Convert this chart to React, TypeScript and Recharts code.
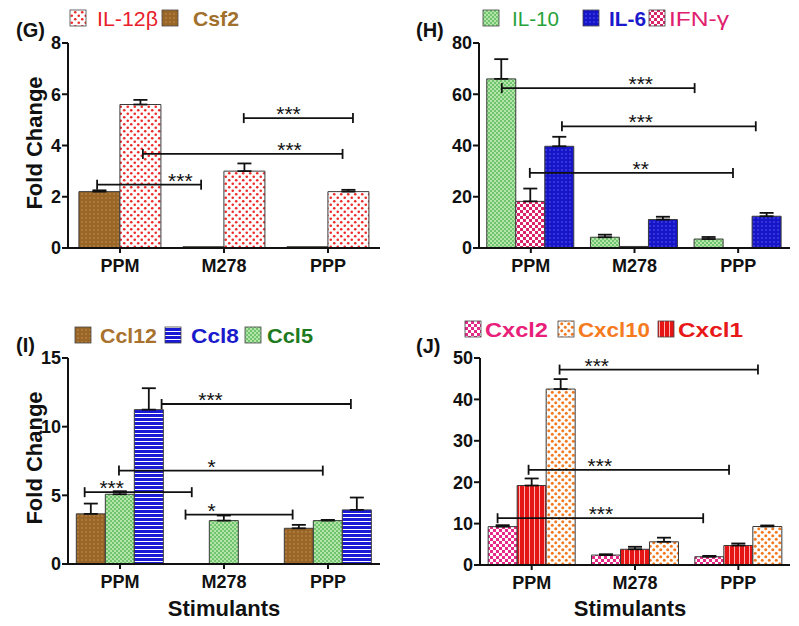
import React from 'react';
import { BarChart, Bar, XAxis, YAxis, ErrorBar, ReferenceLine } from 'recharts';

const CATEGORIES = ['PPM', 'M278', 'PPP'];

// (G)
const G_CSF2 = [2.2, 0.05, 0.05];
const G_CSF2_ERR = [0.05, null, null];
const G_IL12B = [5.6, 3.0, 2.2];
const G_IL12B_ERR = [0.18, 0.3, 0.07];
const G_TICKS = [0, 2, 4, 6, 8];
// significance bars: from/to/at are in category units (0..3 across the x axis), y in data units
const G_SIG = [
  { from: 0.28, to: 1.28, y: 2.47, at: 1.08, text: '***' },
  { from: 0.72, to: 2.64, y: 3.67, at: 2.13, text: '***' },
  { from: 1.69, to: 2.74, y: 5.07, at: 2.12, text: '***' },
];

// (H)
const H_IL10 = [66, 4.2, 3.5];
const H_IL10_ERR = [7.7, 1.0, 0.8];
const H_IFNG = [18.2, 0.6, null];
const H_IFNG_ERR = [5.0, null, null];
const H_IL6 = [39.7, 11.1, 12.4];
const H_IL6_ERR = [3.7, 1.1, 1.3];
const H_TICKS = [0, 20, 40, 60, 80];
const H_SIG = [
  { from: 0.22, to: 2.08, y: 62.4, at: 1.56, text: '***' },
  { from: 0.8, to: 2.67, y: 47.5, at: 1.56, text: '***' },
  { from: 0.49, to: 2.45, y: 29.3, at: 1.56, text: '**' },
];

// (I)
const I_CCL12 = [3.65, null, 2.6];
const I_CCL12_ERR = [0.75, null, 0.25];
const I_CCL5 = [5.08, 3.16, 3.16];
const I_CCL5_ERR = [0.22, 0.37, 0.05];
const I_CCL8 = [11.24, null, 3.94];
const I_CCL8_ERR = [1.56, null, 0.9];
const I_TICKS = [0, 5, 10, 15];
const I_SIG = [
  { from: 0.9, to: 2.72, y: 11.65, at: 1.37, text: '***' },
  { from: 0.49, to: 2.45, y: 6.8, at: 1.38, text: '*' },
  { from: 0.16, to: 1.19, y: 5.23, at: 0.42, text: '***' },
  { from: 1.13, to: 2.16, y: 3.6, at: 1.38, text: '*' },
];

// (J)
const J_CXCL2 = [9.27, 2.4, 2.0];
const J_CXCL2_ERR = [0.35, 0.2, 0.2];
const J_CXCL1 = [19.2, 3.8, 4.7];
const J_CXCL1_ERR = [1.7, 0.6, 0.5];
const J_CXCL10 = [42.5, 5.6, 9.3];
const J_CXCL10_ERR = [2.4, 1.0, 0.25];
const J_TICKS = [0, 10, 20, 30, 40, 50];
const J_SIG = [
  { from: 0.77, to: 2.69, y: 47.2, at: 1.13, text: '***' },
  { from: 0.47, to: 2.41, y: 23.0, at: 1.16, text: '***' },
  { from: 0.17, to: 2.16, y: 11.3, at: 1.17, text: '***' },
];

const FONT = 'Liberation Sans, Arial, Helvetica, sans-serif';

type Series = { values: (number | null)[]; errs: (number | null)[]; fill: string };
type Sig = { from: number; to: number; y: number; at: number; text: string };

function buildRows(series: Series[]) {
  return CATEGORIES.map((name, i) => {
    const row: any = { name };
    series.forEach((s, j) => {
      row['v' + j] = s.values[i];
      row['e' + j] = s.errs[i] == null ? null : [0, s.errs[i]];
    });
    return row;
  });
}

// ReferenceLine at y spans the whole plot; cut it down to the bracket here
const sigShape = (s: Sig) => (props: any) => {
  const { x1, y1, x2 } = props;
  const n = CATEGORIES.length;
  const px = (u: number) => x1 + (u / n) * (x2 - x1);
  const a = px(s.from);
  const b = px(s.to);
  return (
    <g>
      <line x1={a} y1={y1} x2={b} y2={y1} stroke="#111" strokeWidth={1.8} />
      <line x1={a} y1={y1 - 5} x2={a} y2={y1 + 5} stroke="#111" strokeWidth={1.8} />
      <line x1={b} y1={y1 - 5} x2={b} y2={y1 + 5} stroke="#111" strokeWidth={1.8} />
      <text x={px(s.at)} y={y1 + 3} textAnchor="middle" fontSize={21} fontFamily={FONT} fill="#111">
        {s.text}
      </text>
    </g>
  );
};

function Panel({ left, top, width, height, margin, series, ticks, sig, gap }: any) {
  const rows = buildRows(series);
  const max = ticks[ticks.length - 1];
  const tickStyle = { fontSize: 18, fontWeight: 700, fill: '#111', fontFamily: FONT };
  return (
    <div style={{ position: 'absolute', left, top }}>
      <BarChart width={width} height={height} data={rows} margin={margin} barCategoryGap={gap} barGap={0}>
        <XAxis dataKey="name" height={30} tick={tickStyle} tickSize={5} tickMargin={6}
          axisLine={{ stroke: '#111', strokeWidth: 2 }} tickLine={{ stroke: '#111', strokeWidth: 2 }} />
        <YAxis width={50} domain={[0, max]} ticks={ticks} interval={0} allowDataOverflow tick={tickStyle}
          tickSize={6} tickMargin={1} axisLine={{ stroke: '#111', strokeWidth: 2 }}
          tickLine={{ stroke: '#111', strokeWidth: 2 }} />
        {series.map((s: Series, j: number) => (
          <Bar key={j} dataKey={'v' + j} fill={s.fill} stroke="#3a3a3a" strokeWidth={1}
            isAnimationActive={false}>
            <ErrorBar dataKey={'e' + j} width={7} stroke="#111" strokeWidth={1.8} direction="y" />
          </Bar>
        ))}
        {sig.map((s: Sig, k: number) => (
          <ReferenceLine key={k} y={s.y} ifOverflow="visible" stroke="#111" shape={sigShape(s)} />
        ))}
      </BarChart>
    </div>
  );
}

function Legend({ items, y }: any) {
  return (
    <g>
      {items.map((it: any, k: number) => (
        <g key={k}>
          <rect x={it.sx} y={y - 16} width={16} height={16} fill={it.fill} stroke="#444" strokeWidth={0.8} />
          <text x={it.tx} y={y} fontSize={21} fontWeight={it.bold ? 700 : 400} fill={it.color}
            fontFamily={FONT} textLength={it.tw} lengthAdjust="spacingAndGlyphs">
            {it.label}
          </text>
        </g>
      ))}
    </g>
  );
}

export default function App() {
  return (
    <div style={{ position: 'absolute', left: 0, top: 0, width: 799, height: 626, background: '#fff', overflow: 'hidden' }}>
      <svg width={799} height={626} style={{ position: 'absolute', left: 0, top: 0 }}>
        <defs>
          <pattern id="pBrown" width="4" height="4" patternUnits="userSpaceOnUse">
            <rect width="4" height="4" fill="#9a6628" />
            <circle cx="2" cy="2" r="0.7" fill="#c99a5c" />
          </pattern>
          <pattern id="pRedDots" width="7" height="7" patternUnits="userSpaceOnUse">
            <rect width="7" height="7" fill="#fff" />
            <circle cx="1.75" cy="1.75" r="1.3" fill="#ee2a2a" />
            <circle cx="5.25" cy="5.25" r="1.3" fill="#ee2a2a" />
          </pattern>
          <pattern id="pGreen" width="4" height="4" patternUnits="userSpaceOnUse">
            <rect width="4" height="4" fill="#b2e5aa" />
            <rect width="2" height="2" fill="#72c46e" />
            <rect x="2" y="2" width="2" height="2" fill="#72c46e" />
          </pattern>
          <pattern id="pPinkCheck" width="6" height="6" patternUnits="userSpaceOnUse">
            <rect width="6" height="6" fill="#fff" />
            <rect width="3" height="3" fill="#d9246a" />
            <rect x="3" y="3" width="3" height="3" fill="#d9246a" />
          </pattern>
          <pattern id="pBlueDots" width="4" height="4" patternUnits="userSpaceOnUse">
            <rect width="4" height="4" fill="#1616c8" />
            <circle cx="2" cy="2" r="0.8" fill="#5a5af0" />
          </pattern>
          <pattern id="pBlueStripes" width="4" height="4" patternUnits="userSpaceOnUse">
            <rect width="4" height="4" fill="#1a1ad4" />
            <rect y="3" width="4" height="1" fill="#fff" />
          </pattern>
          <pattern id="pMagentaCheck" width="6" height="6" patternUnits="userSpaceOnUse">
            <rect width="6" height="6" fill="#fff" />
            <rect width="3" height="3" fill="#e62a8a" />
            <rect x="3" y="3" width="3" height="3" fill="#e62a8a" />
          </pattern>
          <pattern id="pOrangeDots" width="7" height="7" patternUnits="userSpaceOnUse">
            <rect width="7" height="7" fill="#fff" />
            <circle cx="1.75" cy="1.75" r="1.5" fill="#f37a20" />
            <circle cx="5.25" cy="5.25" r="1.5" fill="#f37a20" />
          </pattern>
          <pattern id="pRedStripes" width="5" height="5" patternUnits="userSpaceOnUse">
            <rect width="5" height="5" fill="#e61515" />
            <rect x="4" width="1" height="5" fill="#ffb0b0" />
          </pattern>
        </defs>

        <g fontFamily={FONT} fontWeight={700} fill="#111">
          <text x={16} y={37} fontSize={20}>(G)</text>
          <text x={416} y={37} fontSize={20}>(H)</text>
          <text x={16} y={352} fontSize={20}>(I)</text>
          <text x={416} y={353} fontSize={20}>(J)</text>
          <text transform="translate(42,143) rotate(-90)" textAnchor="middle" fontSize={22}>Fold Change</text>
          <text transform="translate(42,458) rotate(-90)" textAnchor="middle" fontSize={22}>Fold Change</text>
          <text x={224} y={616} textAnchor="middle" fontSize={22}>Stimulants</text>
          <text x={630} y={616} textAnchor="middle" fontSize={22}>Stimulants</text>
        </g>

        <Legend y={26} items={[
          { sx: 70, tx: 97, tw: 61, label: 'IL-12β', fill: 'url(#pRedDots)', color: '#e8202a', bold: false },
          { sx: 162, tx: 193, tw: 46, label: 'Csf2', fill: 'url(#pBrown)', color: '#a0702c', bold: true },
        ]} />
        <Legend y={26} items={[
          { sx: 483, tx: 512, tw: 47, label: 'IL-10', fill: 'url(#pGreen)', color: '#26a23a', bold: false },
          { sx: 583, tx: 609, tw: 37, label: 'IL-6', fill: 'url(#pBlueDots)', color: '#1a1acc', bold: true },
          { sx: 649, tx: 669, tw: 60, label: 'IFN-γ', fill: 'url(#pPinkCheck)', color: '#e0206e', bold: false },
        ]} />
        <Legend y={343} items={[
          { sx: 75, tx: 100, tw: 57, label: 'Ccl12', fill: 'url(#pBrown)', color: '#a8722e', bold: true },
          { sx: 165, tx: 191, tw: 48, label: 'Ccl8', fill: 'url(#pBlueStripes)', color: '#1a1acc', bold: true },
          { sx: 245, tx: 267, tw: 46, label: 'Ccl5', fill: 'url(#pGreen)', color: '#1d7a1d', bold: true },
        ]} />
        <Legend y={337} items={[
          { sx: 465, tx: 485, tw: 63, label: 'Cxcl2', fill: 'url(#pMagentaCheck)', color: '#e8207a', bold: true },
          { sx: 558, tx: 578, tw: 72, label: 'Cxcl10', fill: 'url(#pOrangeDots)', color: '#f57a20', bold: true },
          { sx: 658, tx: 678, tw: 65, label: 'Cxcl1', fill: 'url(#pRedStripes)', color: '#e81818', bold: true },
        ]} />
      </svg>

      <Panel left={0} top={0} width={400} height={300} gap="10.5%"
        margin={{ top: 43, right: 20, left: 18, bottom: 22 }} ticks={G_TICKS} sig={G_SIG}
        series={[
          { values: G_CSF2, errs: G_CSF2_ERR, fill: 'url(#pBrown)' },
          { values: G_IL12B, errs: G_IL12B_ERR, fill: 'url(#pRedDots)' },
        ]} />
      <Panel left={400} top={0} width={399} height={300} gap="7.5%"
        margin={{ top: 43, right: 9, left: 29, bottom: 22 }} ticks={H_TICKS} sig={H_SIG}
        series={[
          { values: H_IL10, errs: H_IL10_ERR, fill: 'url(#pGreen)' },
          { values: H_IFNG, errs: H_IFNG_ERR, fill: 'url(#pPinkCheck)' },
          { values: H_IL6, errs: H_IL6_ERR, fill: 'url(#pBlueDots)' },
        ]} />
      <Panel left={0} top={310} width={400} height={316} gap="8%"
        margin={{ top: 48, right: 20, left: 18, bottom: 32 }} ticks={I_TICKS} sig={I_SIG}
        series={[
          { values: I_CCL12, errs: I_CCL12_ERR, fill: 'url(#pBrown)' },
          { values: I_CCL5, errs: I_CCL5_ERR, fill: 'url(#pGreen)' },
          { values: I_CCL8, errs: I_CCL8_ERR, fill: 'url(#pBlueStripes)' },
        ]} />
      <Panel left={400} top={310} width={399} height={316} gap="7.9%"
        margin={{ top: 48, right: 9, left: 30, bottom: 31 }} ticks={J_TICKS} sig={J_SIG}
        series={[
          { values: J_CXCL2, errs: J_CXCL2_ERR, fill: 'url(#pMagentaCheck)' },
          { values: J_CXCL1, errs: J_CXCL1_ERR, fill: 'url(#pRedStripes)' },
          { values: J_CXCL10, errs: J_CXCL10_ERR, fill: 'url(#pOrangeDots)' },
        ]} />
    </div>
  );
}
